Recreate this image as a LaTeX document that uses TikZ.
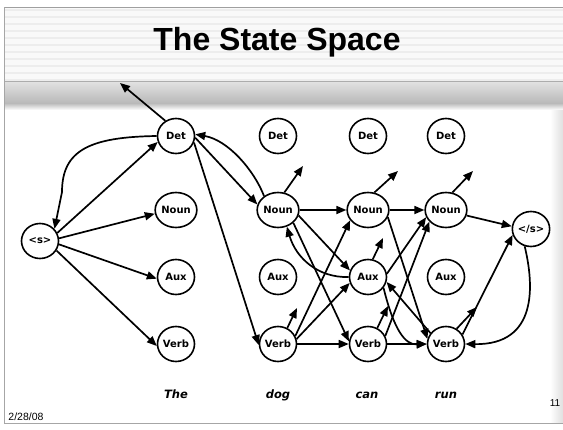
\documentclass[tikz,border=0pt]{standalone}
\usepackage{fontspec}
\setmainfont{DejaVu Sans}
\newfontfamily\titlefont{Liberation Sans}
\usetikzlibrary{arrows.meta,shapes.geometric}
\begin{document}
\begin{tikzpicture}[x=1pt,y=-1pt,
  st/.style={ellipse,draw,line width=1.6pt,fill=white,minimum width=37pt,minimum height=35pt,inner sep=0pt,font=\fontsize{10}{11}\selectfont\bfseries},
  ar/.style={line width=1.7pt,-{Triangle[length=10pt,width=8pt]}},
  word/.style={anchor=base,font=\fontsize{11.5}{12}\selectfont\bfseries\itshape},
  stripe/.style={draw=gray!14,line width=2.6pt},
]
\useasboundingbox (0,0) rectangle (563,429);
% slide frame and title band
\fill[gray!5] (4,7) rectangle (563,81);
\foreach \yy in {10,17,...,80} \draw[stripe] (4,\yy) -- (563,\yy);
\shade[top color=gray!22,bottom color=gray!55] (4,81) rectangle (563,103);
\shade[top color=gray!55,bottom color=white] (4,103) rectangle (563,110);
\shade[left color=white,right color=gray!25] (550,110) rectangle (563,423);
\draw[gray!75,line width=1pt] (4,7) -- (563,7);
\draw[gray!65,line width=1pt] (4,81) -- (563,81);
\draw[gray!70,line width=1pt] (4,7) -- (4,423) -- (563,423);
\node[font=\titlefont\fontsize{32}{36}\selectfont\bfseries] (title) at (277,42) {The State Space};
\node[font=\titlefont\fontsize{10.5}{12}\selectfont] (date) at (26,417) {2/28/08};
\node[font=\titlefont\fontsize{10}{12}\selectfont] (page) at (555,403) {11};

% nodes
\node[st] (s) at (40,241) {<s>};
\foreach \c/\x in {1/176,2/278,3/368,4/446}{
  \node[st] (Det\c) at (\x,136) {Det};
  \node[st] (Noun\c) at (\x,210) {Noun};
  \node[st] (Aux\c) at (\x,277) {Aux};
  \node[st] (Verb\c) at (\x,344) {Verb};
}
\node[st] (e) at (531,229) {</s>};

\node[word] (w1) at (176,398) {The};
\node[word] (w2) at (278,398) {dog};
\node[word] (w3) at (367,398) {can};
\node[word] (w4) at (446,398) {run};

% free ends of stub arrows
\coordinate (x0) at (120,83);
\coordinate (x1) at (303,166);
\coordinate (x2) at (297,308);
\coordinate (x3) at (398,171);
\coordinate (x4) at (383,238);
\coordinate (x5) at (388,306);
\coordinate (x6) at (473,171);
\coordinate (x7) at (477,307);

% edges from <s>
\draw[ar] (s.25) -- (Det1.198);
\draw[ar] (Det1.180) .. controls (90,137) and (62,150) .. (62,192) -- (s.40);
\draw[ar] (s.8) -- (Noun1.190);
\draw[ar] (s.-10) -- (Aux1.185);
\draw[ar] (s.-30) -- (Verb1.186);

% column 1
\draw[ar] (Det1.125) -- (x0);
\draw[ar] (Det1.-5) -- (Noun2.165);
\draw[ar] (Noun2.135) .. controls (254,170) and (228,140) .. (Det1.5);
\draw[ar] (Det1.-20) -- (Verb2.183);

% column 2
\draw[ar] (Noun2.70) -- (x1);
\draw[ar] (Noun2.east) -- (Noun3.west);
\draw[ar] (Noun2.-15) -- (Aux3.160);
\draw[ar] (Noun2.-40) -- (Verb3.172);
\draw[ar] (Aux3.180) .. controls (318,278) and (296,258) .. (Noun2.-62);
\draw[ar] (Verb2.60) -- (x2);
\draw[ar] (Verb2.25) -- (Noun3.210);
\draw[ar] (Verb2.15) -- (Aux3.198);
\draw[ar] (Verb2.east) -- (Verb3.west);

% column 3
\draw[ar] (Noun3.70) -- (x3);
\draw[ar] (Noun3.east) -- (Noun4.west);
\draw[ar] (Noun3.-20) -- (Verb4.165);
\draw[ar] (Aux3.75) -- (x4);
\draw[ar] (Aux3.10) -- (Noun4.200);
\draw[ar] (Verb3.60) -- (x5);
\draw[ar] (Verb3.25) -- (Noun4.215);
\draw[ar] (Verb3.east) -- (Verb4.west);
\draw[ar] (Aux3.-35) .. controls (394,330) and (405,345) .. (Verb4.180);
\draw[ar] (Verb4.145) -- (Aux3.-15);

% column 4
\draw[ar] (Noun4.70) -- (x6);
\draw[ar] (Noun4.-15) -- (e.172);
\draw[ar] (Verb4.55) -- (x7);
\draw[ar] (Verb4.30) -- (e.198);
\draw[ar] (e.-110) .. controls (534,285) and (538,345) .. (Verb4.0);
\end{tikzpicture}
\end{document}
